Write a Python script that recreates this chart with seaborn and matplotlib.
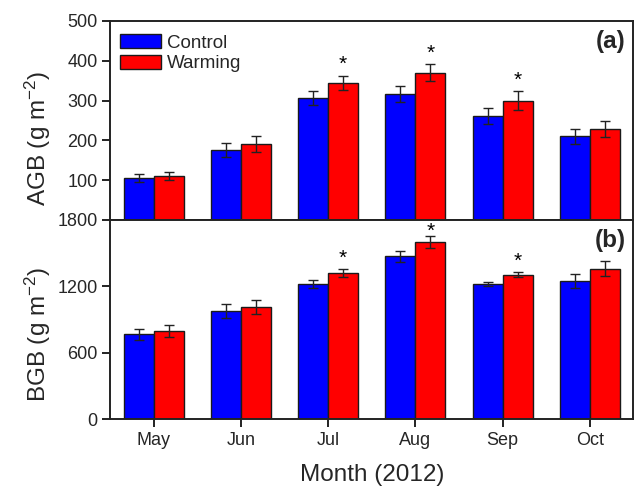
import matplotlib
matplotlib.use("Agg")
import matplotlib.pyplot as plt
from matplotlib.patches import Patch
import seaborn as sns
import pandas as pd

# Biomass by month under control and warming treatments
months = ["May", "Jun", "Jul", "Aug", "Sep", "Oct"]
groups = ["Control", "Warming"]

agb_control = [106, 175, 306, 316, 261, 210]
agb_warming = [111, 191, 345, 370, 300, 228]
agb_control_se = [10, 18, 17, 20, 21, 18]
agb_warming_se = [10, 20, 18, 22, 24, 20]
agb_signif = [False, False, True, True, True, False]

bgb_control = [766, 977, 1221, 1471, 1221, 1248]
bgb_warming = [796, 1013, 1321, 1604, 1305, 1360]
bgb_control_se = [48, 60, 36, 47, 15, 63]
bgb_warming_se = [50, 65, 36, 54, 22, 67]
bgb_signif = [False, False, True, True, True, False]

colors = {"Control": "#0000ff", "Warming": "#ff0000"}

sns.set_style("ticks")
plt.rcParams["font.family"] = ["Liberation Sans", "DejaVu Sans"]
plt.rcParams["mathtext.fontset"] = "custom"
plt.rcParams["mathtext.rm"] = "Liberation Sans"
plt.rcParams["mathtext.default"] = "regular"


def frame(ctrl, warm):
    return pd.DataFrame({
        "month": months * 2,
        "group": ["Control"] * len(months) + ["Warming"] * len(months),
        "value": list(ctrl) + list(warm),
    })


fig = plt.figure(figsize=(6.35, 4.87), dpi=100)
ax1 = fig.add_axes([0.1732, 0.5483, 0.8244, 0.4086])
ax2 = fig.add_axes([0.1732, 0.1396, 0.8244, 0.4087])

panels = [
    (ax1, agb_control, agb_warming, agb_control_se, agb_warming_se, agb_signif,
     (0, 500), [100, 200, 300, 400, 500], "AGB (g m$^{-2}$)", "(a)", 0.412),
    (ax2, bgb_control, bgb_warming, bgb_control_se, bgb_warming_se, bgb_signif,
     (0, 1800), [0, 600, 1200, 1800], "BGB (g m$^{-2}$)", "(b)", 0.425),
]

STAR_GAP = 8.0       # points between error-bar top and asterisk centre
STAR_MARGIN = 8.0    # keep asterisks this far (points) below the top spine

for (ax, ctrl, warm, ctrl_se, warm_se, signif, ylim, yticks, ylabel, tag,
     label_y) in panels:
    sns.barplot(data=frame(ctrl, warm), x="month", y="value", hue="group",
                order=months, hue_order=groups, palette=colors, width=0.69,
                errorbar=None, edgecolor="#1a1a1a", linewidth=1.0,
                saturation=1, legend=False, ax=ax)

    ax.set_xlim(-0.5, 5.5)
    ax.set_ylim(*ylim)
    axes_h_pt = ax.get_position().height * fig.get_figheight() * 72

    errs = {"Control": ctrl_se, "Warming": warm_se}
    for cont, grp in zip(ax.containers, groups):
        for i, bar in enumerate(cont):
            xc = bar.get_x() + bar.get_width() / 2
            h = bar.get_height()
            top = h + errs[grp][i]
            ax.errorbar(xc, h, yerr=errs[grp][i], fmt="none", ecolor="#222222",
                        elinewidth=1.0, capsize=3.6, capthick=1.0, zorder=4)
            if grp == "Warming" and signif[i]:
                room = (ylim[1] - top) / (ylim[1] - ylim[0]) * axes_h_pt
                gap = min(STAR_GAP, room - STAR_MARGIN)
                ax.annotate("*", xy=(xc, top), xytext=(0, gap),
                            textcoords="offset points", ha="center", va="center",
                            fontsize=15, color="black", annotation_clip=False)

    ax.set_yticks(yticks)
    ax.set_ylabel(ylabel, fontsize=17.5)
    ax.yaxis.set_label_coords(-0.108, label_y)
    ax.set_xlabel("")
    for side in ["top", "right", "bottom", "left"]:
        ax.spines[side].set_visible(True)
        ax.spines[side].set_linewidth(1.4)
        ax.spines[side].set_color("#222222")
    ax.tick_params(axis="both", direction="out", length=6, width=1.4,
                   color="#222222", labelsize=13, pad=3)
    ax.text(0.985, 0.955, tag, transform=ax.transAxes, ha="right", va="top",
            fontsize=17.5, fontweight="bold")

ax1.tick_params(axis="x", labelbottom=False)
ax2.set_xlabel("Month (2012)", fontsize=17.5)
ax2.xaxis.label.set_va("baseline")
ax2.xaxis.set_label_coords(0.5, -0.31)

handles = [Patch(facecolor=colors[g], edgecolor="#1a1a1a", linewidth=1.0) for g in groups]
ax1.legend(handles, groups, loc="upper left", bbox_to_anchor=(-0.006, 1.0),
           frameon=False, fontsize=13.5, handlelength=2.2, handleheight=0.8,
           handletextpad=0.3, labelspacing=0.15, borderaxespad=0.4,
           borderpad=0.3)

fig.savefig("out.png", dpi=100)
